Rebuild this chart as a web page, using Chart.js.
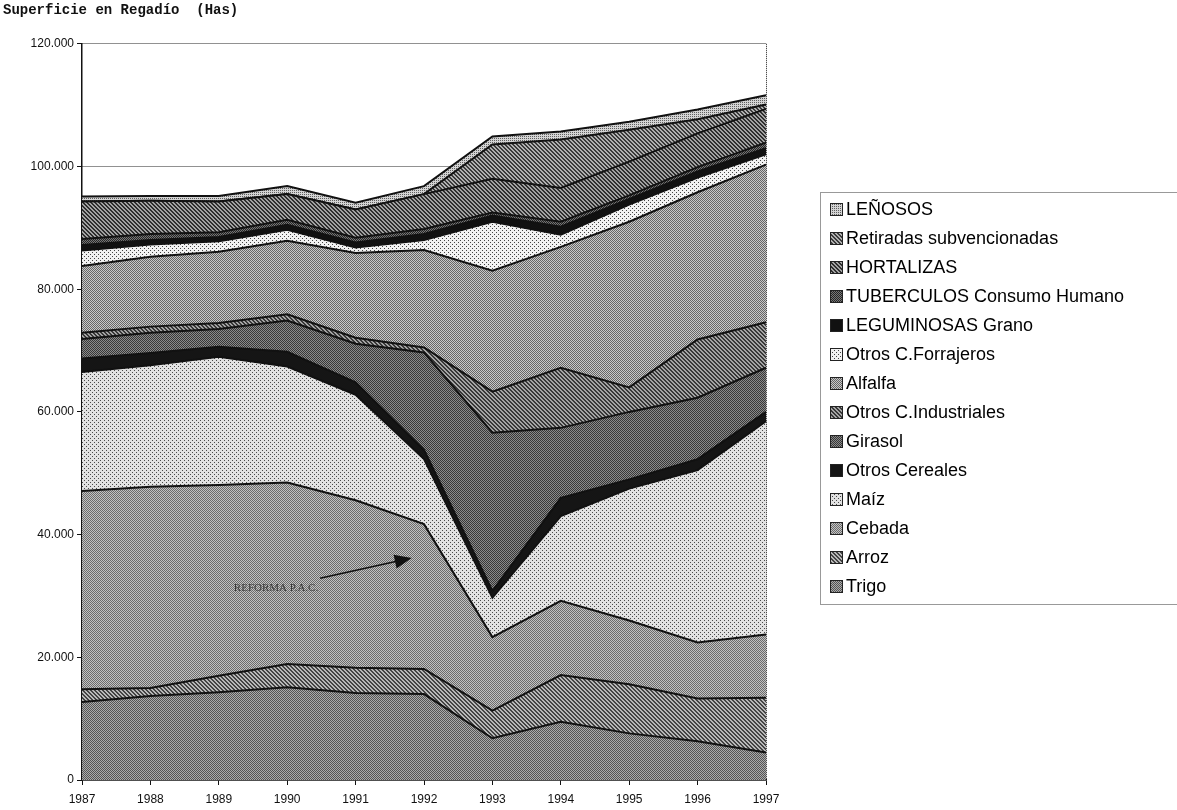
<!DOCTYPE html>
<html>
<head>
<meta charset="utf-8">
<script src="https://cdn.jsdelivr.net/npm/chart.js@4.4.1/dist/chart.umd.min.js"></script>
<style>
    html, body { margin: 0; padding: 0; background: #fff; }
</style>
</head>
<body>
<canvas id="regadioChart" width="1177" height="810"></canvas>
<script>
// years on the x axis
const years = ['1987', '1988', '1989', '1990', '1991', '1992', '1993', '1994', '1995', '1996', '1997'];

// irrigated surface per crop (Has), bottom layer first
const trigo          = [12700, 13700, 14300, 15100, 14200, 14000,  6800,  9500,  7600,  6300,  4500];
const arroz          = [ 2100,  1300,  2700,  3800,  4100,  4100,  4500,  7600,  8000,  7000,  8900];
const cebada         = [32300, 32800, 31100, 29600, 27300, 23600, 12000, 12100, 10400,  9100, 10300];
const maiz           = [19400, 19800, 20900, 18900, 17200, 10600,  6400, 13800, 21500, 28100, 34800];
const otrosCereales  = [ 2200,  2000,  1600,  2400,  2000,  1500,  1100,  3000,  1500,  1800,  1500];
const girasol        = [ 3200,  3300,  2900,  5100,  6300, 15900, 25800, 11400, 11000, 10000,  7200];
const otrosInd       = [ 1000,  1000,  1000,  1000,  1000,   800,  6700,  9800,  4000,  9500,  7400];
const alfalfa        = [10900, 11400, 11600, 12000, 13800, 15900, 19700, 19700, 27000, 24000, 25700];
const otrosForraj    = [ 2500,  2000,  1700,  1800,   900,  1600,  8000,  2000,  2800,  2400,  1700];
const leguminosas    = [  900,   700,   700,   800,   800,  1000,  1000,  1300,   900,  1000,  1000];
const tuberculos     = [ 1000,  1000,   800,   800,   800,   800,   500,   800,   600,   700,   900];
const hortalizas     = [ 6100,  5400,  5000,  4200,  4600,  5700,  5500,  5500,  5500,  5500,  5500];
const retiradas      = [    0,     0,     0,     0,     0,     0,  5600,  7900,  5200,  2300,   700];
const lenosos        = [  800,   800,   900,  1300,  1100,  1300,  1300,  1300,  1300,  1600,  1500];

// small halftone-like fills, the scan is all grey patterns
function makePattern(kind, dark, light) {
    const c = document.createElement('canvas');
    c.width = 4;
    c.height = 4;
    const g = c.getContext('2d');
    g.fillStyle = light;
    g.fillRect(0, 0, 4, 4);
    g.fillStyle = dark;
    for (let y = 0; y < 4; y++) {
        for (let x = 0; x < 4; x++) {
            let on = false;
            if (kind === 'check') on = (x + y) % 2 === 0;
            if (kind === 'hatch') on = ((x - y + 8) % 4) < 2;
            if (kind === 'dots') on = (x % 2 === 0 && y % 2 === 0);
            if (kind === 'sparse') on = (x === 0 && y === 0) || (x === 2 && y === 2);
            if (kind === 'solid') on = true;
            if (on) g.fillRect(x, y, 1, 1);
        }
    }
    return g.createPattern(c, 'repeat');
}

const layers = [
    { label: 'Trigo', data: trigo, fill: makePattern('check', '#555555', '#ababab') },
    { label: 'Arroz', data: arroz, fill: makePattern('hatch', '#444444', '#b8b8b8') },
    { label: 'Cebada', data: cebada, fill: makePattern('check', '#6c6c6c', '#c2c2c2') },
    { label: 'Maíz', data: maiz, fill: makePattern('sparse', '#4a4a4a', '#e2e2e2') },
    { label: 'Otros Cereales', data: otrosCereales, fill: makePattern('solid', '#151515', '#151515') },
    { label: 'Girasol', data: girasol, fill: makePattern('check', '#383838', '#8a8a8a') },
    { label: 'Otros C.Industriales', data: otrosInd, fill: makePattern('hatch', '#383838', '#a4a4a4') },
    { label: 'Alfalfa', data: alfalfa, fill: makePattern('check', '#666666', '#c8c8c8') },
    { label: 'Otros C.Forrajeros', data: otrosForraj, fill: makePattern('sparse', '#444444', '#f2f2f2') },
    { label: 'LEGUMINOSAS Grano', data: leguminosas, fill: makePattern('solid', '#111111', '#111111') },
    { label: 'TUBERCULOS Consumo Humano', data: tuberculos, fill: makePattern('check', '#262626', '#767676') },
    { label: 'HORTALIZAS', data: hortalizas, fill: makePattern('hatch', '#2e2e2e', '#a2a2a2') },
    { label: 'Retiradas subvencionadas', data: retiradas, fill: makePattern('hatch', '#3a3a3a', '#b0b0b0') },
    { label: 'LEÑOSOS', data: lenosos, fill: makePattern('dots', '#606060', '#d4d4d4') }
];

// legend in a dotted box on the right, top layer listed first
const boxLegend = {
    id: 'boxLegend',
    afterDraw(chart) {
        const ctx = chart.ctx;
        const ds = chart.data.datasets;
        ctx.save();
        ctx.strokeStyle = '#333';
        ctx.lineWidth = 1;
        ctx.setLineDash([1, 1]);
        ctx.strokeRect(820.5, 192.5, 400, 412);
        ctx.setLineDash([]);
        ctx.font = '18px "Liberation Sans", Arial, sans-serif';
        ctx.textBaseline = 'middle';
        for (let i = ds.length - 1, row = 0; i >= 0; i--, row++) {
            const y = 209 + row * 29;
            ctx.fillStyle = ds[i].backgroundColor;
            ctx.fillRect(830, y - 6, 13, 13);
            ctx.strokeStyle = '#222';
            ctx.strokeRect(830.5, y - 5.5, 12, 12);
            ctx.fillStyle = '#000';
            ctx.fillText(ds[i].label, 846, y + 1);
        }
        ctx.restore();
    }
};

// dotted right edge of the plot frame
const frameEdge = {
    id: 'frameEdge',
    beforeDatasetsDraw(chart) {
        const { ctx, chartArea } = chart;
        ctx.save();
        ctx.strokeStyle = '#222';
        ctx.setLineDash([1, 1]);
        ctx.beginPath();
        ctx.moveTo(chartArea.right + 0.5, chartArea.top);
        ctx.lineTo(chartArea.right + 0.5, chartArea.bottom);
        ctx.stroke();
        ctx.restore();
    }
};

// the "REFORMA P.A.C." note with its arrow
const reformaNote = {
    id: 'reformaNote',
    afterDatasetsDraw(chart) {
        const { ctx, scales: { x, y } } = chart;
        ctx.save();
        ctx.font = '11px "Liberation Serif", serif';
        ctx.fillStyle = '#3a3a3a';
        ctx.textBaseline = 'middle';
        ctx.fillText('REFORMA P.A.C.', x.getPixelForValue(2.22), y.getPixelForValue(31300));

        const x0 = x.getPixelForValue(3.48), y0 = y.getPixelForValue(32900);
        const x1 = x.getPixelForValue(4.82), y1 = y.getPixelForValue(36200);
        const ang = Math.atan2(y1 - y0, x1 - x0);
        ctx.strokeStyle = '#111';
        ctx.lineWidth = 1.5;
        ctx.beginPath();
        ctx.moveTo(x0, y0);
        ctx.lineTo(x1 - 14 * Math.cos(ang), y1 - 14 * Math.sin(ang));
        ctx.stroke();
        ctx.fillStyle = '#111';
        ctx.beginPath();
        ctx.moveTo(x1, y1);
        ctx.lineTo(x1 - 17 * Math.cos(ang) + 7 * Math.sin(ang), y1 - 17 * Math.sin(ang) - 7 * Math.cos(ang));
        ctx.lineTo(x1 - 17 * Math.cos(ang) - 7 * Math.sin(ang), y1 - 17 * Math.sin(ang) + 7 * Math.cos(ang));
        ctx.closePath();
        ctx.fill();
        ctx.restore();
    }
};

const ctx = document.getElementById('regadioChart').getContext('2d');

const regadioChart = new Chart(ctx, {
    type: 'line',
    data: {
        labels: years,
        datasets: layers.map((l, i) => ({
            label: l.label,
            data: l.data,
            backgroundColor: l.fill,
            borderColor: '#111',
            borderWidth: 2,
            pointRadius: 0,
            tension: 0,
            fill: i === 0 ? 'origin' : '-1'
        }))
    },
    options: {
        responsive: false,
        animation: false,
        devicePixelRatio: 1,
        events: [],
        layout: {
            padding: { left: 3, right: 411, top: 0, bottom: 0 }
        },
        scales: {
            x: {
                offset: false,
                grid: { display: true, drawOnChartArea: false, drawTicks: true, tickLength: 5, color: '#111' },
                border: { color: '#111', width: 1.5 },
                ticks: {
                    color: '#111',
                    font: { family: '"Liberation Sans", Arial, sans-serif', size: 12 },
                    maxRotation: 0,
                    autoSkip: false,
                    padding: 7
                },
                afterFit: s => { s.height = 30; }
            },
            y: {
                stacked: true,
                min: 0,
                max: 120000,
                grid: { color: '#222', lineWidth: 1, tickLength: 5, tickColor: '#111', tickBorderDash: [] },
                border: { color: '#111', width: 1.5, dash: [1, 1] },
                ticks: {
                    stepSize: 20000,
                    color: '#111',
                    padding: 3,
                    font: { family: '"Liberation Sans", Arial, sans-serif', size: 12 },
                    callback: v => String(v).replace(/\B(?=(\d{3})+(?!\d))/g, '.')
                },
                afterFit: s => { s.width = 79; }
            }
        },
        plugins: {
            legend: { display: false },
            tooltip: { enabled: false },
            title: {
                display: true,
                text: 'Superficie en Regadío  (Has)',
                align: 'start',
                color: '#111',
                font: { family: '"Liberation Mono", monospace', size: 14, weight: 'bold', lineHeight: 1.2 },
                padding: { top: 2, bottom: 25 }
            }
        }
    },
    plugins: [frameEdge, reformaNote, boxLegend]
});
</script>
</body>
</html>
